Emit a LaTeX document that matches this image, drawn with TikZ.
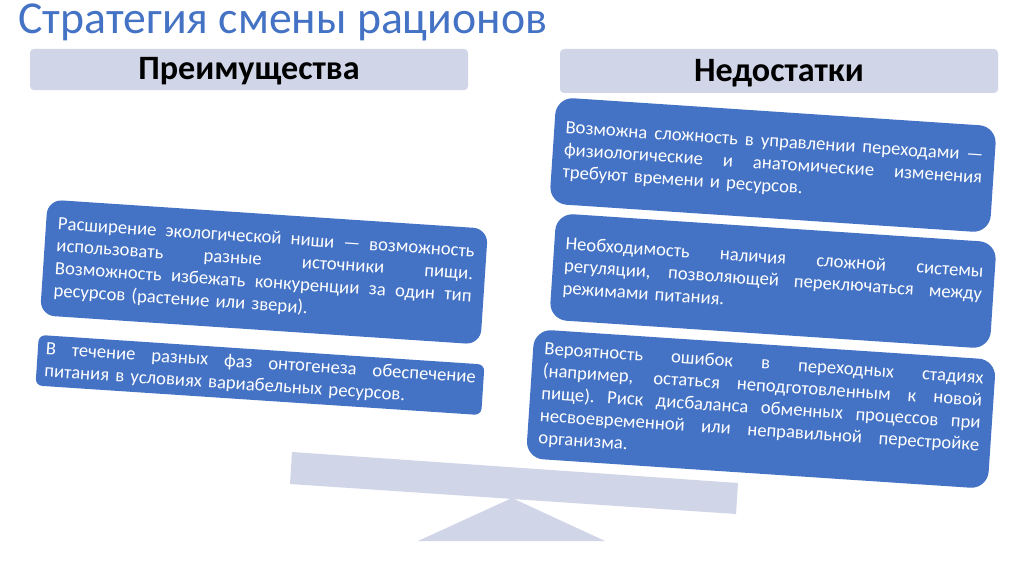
\documentclass[tikz,border=0pt]{standalone}
\usepackage{fontspec}
\setmainfont{Carlito}
\definecolor{blueBox}{HTML}{4472C4}
\definecolor{paleBox}{HTML}{D0D5E8}
\newcommand{\jl}[1]{\leavevmode\hbox to\hsize{\spaceskip=0.25em plus 1fil\xspaceskip=0.25em plus 1fil\relax #1}}
\tikzset{
  px/.style={x=0.75pt,y=-0.75pt},
  header/.style={fill=paleBox,rounded corners=3pt,inner sep=0pt},
  headtext/.style={anchor=base,inner sep=0pt,text=black,font=\fontsize{25.6}{30}\selectfont\bfseries},
  note/.style={fill=blueBox,text=white,inner sep=0pt,rotate=-3.8,align=left,font=\fontsize{14}{16.8}\selectfont},
  slab/.style={fill=paleBox,draw=none}
}
\begin{document}
\begin{tikzpicture}[px]
\useasboundingbox[fill=white] (0,0) rectangle (1024,574);
\node[anchor=base west,inner sep=0pt,text=blueBox,font=\fontsize{34.3}{40}\selectfont] (title) at (18,33.5) {Стратегия смены рационов};
\node[header,minimum width=328.5pt,minimum height=31pt] (adv) at (249,69.5) {};
\node[headtext] (advt) at (249,80) {Преимущества};
\node[header,minimum width=328.5pt,minimum height=33pt] (dis) at (779,71) {};
\node[headtext] (dist) at (779,82) {Недостатки};
\node[note,rounded corners=11pt,minimum width=331pt,minimum height=87pt,text width=313pt] (a1) at (264,272) {%
\jl{Расширение экологической ниши — возможность}\\
\jl{использовать разные источники пищи.}\\
\jl{Возможность избежать конкуренции за один тип}\\
ресурсов (растение или звери).};
\node[note,rounded corners=5pt,minimum width=335pt,minimum height=38pt,text width=323pt] (a2) at (260,375) {%
\jl{В течение разных фаз онтогенеза обеспечение}\\
питания в условиях вариабельных ресурсов.};
\node[note,rounded corners=13pt,minimum width=331pt,minimum height=80pt,text width=314pt] (d1) at (773,165) {%
\jl{Возможна сложность в управлении переходами —}\\
\jl{физиологические и анатомические изменения}\\
требуют времени и ресурсов.};
\node[note,rounded corners=13pt,minimum width=331pt,minimum height=80pt,text width=314pt] (d2) at (773,281) {%
\jl{Необходимость наличия сложной системы}\\
\jl{регуляции, позволяющей переключаться между}\\
режимами питания.};
\node[note,rounded corners=13pt,minimum width=347pt,minimum height=97pt,text width=330pt] (d3) at (761,409) {%
\jl{Вероятность ошибок в переходных стадиях}\\
\jl{(например, остаться неподготовленным к новой}\\
\jl{пище). Риск дисбаланса обменных процессов при}\\
\jl{несвоевременной или неправильной перестройке}\\
организма.};
\fill[slab] (292,452) -- (738,483) -- (736,514) -- (290,484) -- cycle;
\fill[slab] (512,498) -- (605,541) -- (418,541) -- cycle;
\end{tikzpicture}
\end{document}
